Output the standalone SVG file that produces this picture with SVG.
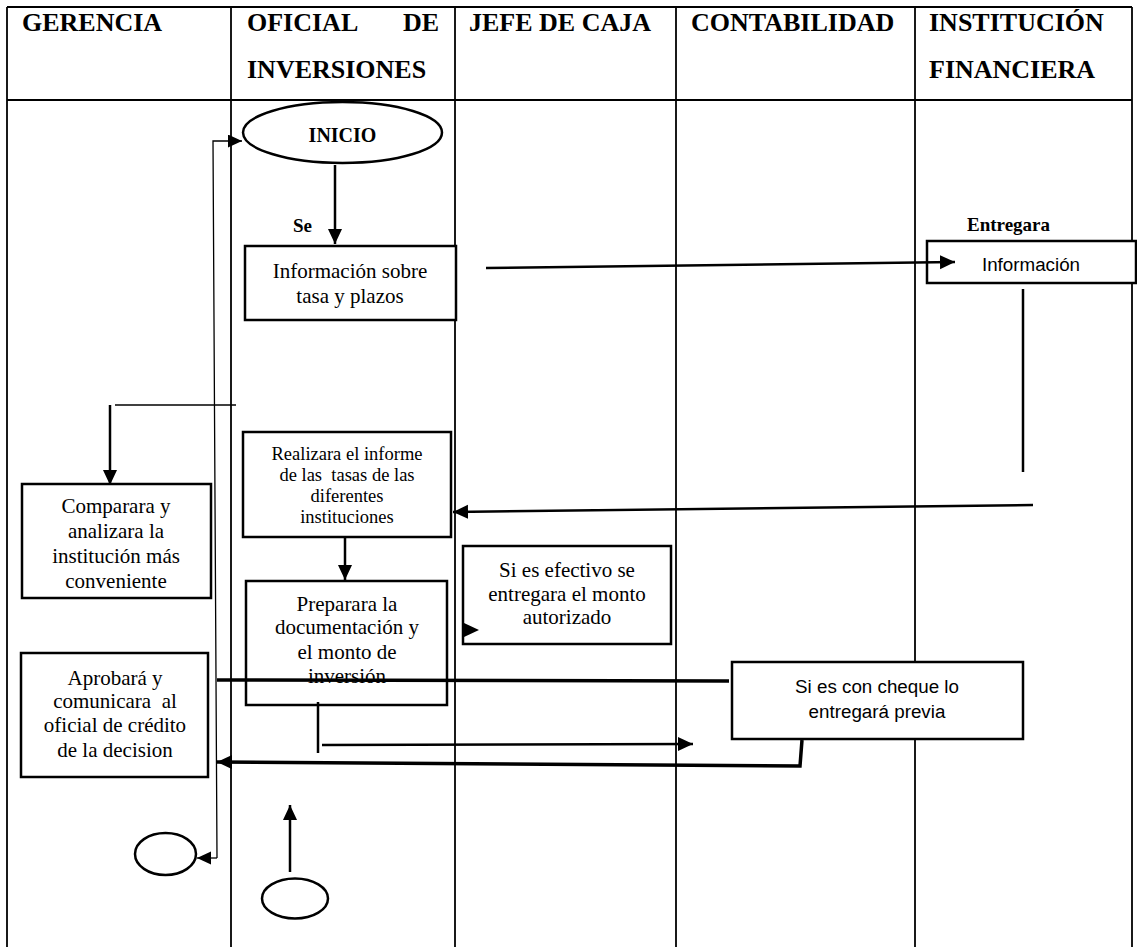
<svg xmlns="http://www.w3.org/2000/svg" width="1137" height="947" viewBox="0 0 1137 947">
<style>
.grid{stroke:#000;stroke-width:1.8;fill:none}
.hd{font-family:"Liberation Serif","Times New Roman",serif;font-weight:bold;font-size:26px;fill:#000}
.box{fill:#fff;stroke:#000;stroke-width:2.5}
.t{font-family:"Liberation Serif","Times New Roman",serif;font-size:21px;fill:#000;text-anchor:middle;white-space:pre}
.ts{font-family:"Liberation Serif","Times New Roman",serif;font-size:18.5px;fill:#000;text-anchor:middle;white-space:pre}
.sans{font-family:"Liberation Sans",Arial,sans-serif;font-size:18.8px;fill:#000;text-anchor:middle}
.b{font-family:"Liberation Serif","Times New Roman",serif;font-weight:bold;fill:#000}
.c{stroke:#000;fill:none;stroke-width:2.5}
.thin{stroke:#000;fill:none;stroke-width:1.3}
.thick{stroke:#000;fill:none;stroke-width:3.5}
</style>
<defs>
<marker id="ah" markerUnits="userSpaceOnUse" markerWidth="16" markerHeight="16" refX="15" refY="7" orient="auto"><path d="M0,0 L15,7 L0,14 z" fill="#000"/></marker>
<marker id="ahs" markerUnits="userSpaceOnUse" markerWidth="16" markerHeight="14" refX="14" refY="6.5" orient="auto"><path d="M0,0 L14,6.5 L0,13 z" fill="#000"/></marker>
</defs>
<rect width="1137" height="947" fill="#fff"/>
<g id="table">
<line class="grid" x1="7" y1="7" x2="1132" y2="7"/>
<line class="grid" x1="7" y1="100" x2="1132" y2="100"/>
<line class="grid" x1="7" y1="7" x2="7" y2="947"/>
<line class="grid" x1="231" y1="7" x2="231" y2="947"/>
<line class="grid" x1="455" y1="7" x2="455" y2="947"/>
<line class="grid" x1="676" y1="7" x2="676" y2="947"/>
<line class="grid" x1="915" y1="7" x2="915" y2="947"/>
<line class="grid" x1="1132" y1="7" x2="1132" y2="947"/>
<text class="hd" x="22" y="31">GERENCIA</text>
<text class="hd" x="247" y="31">OFICIAL</text>
<text class="hd" x="439" y="31" text-anchor="end">DE</text>
<text class="hd" x="247" y="78">INVERSIONES</text>
<text class="hd" x="469" y="31">JEFE DE CAJA</text>
<text class="hd" x="691" y="31">CONTABILIDAD</text>
<text class="hd" x="929" y="31">INSTITUCIÓN</text>
<text class="hd" x="929" y="78">FINANCIERA</text>
</g>
<g id="inicio">
<ellipse cx="342.5" cy="132.5" rx="99.5" ry="30.5" class="box"/>
<text class="b" x="342.5" y="142" font-size="20" text-anchor="middle">INICIO</text>
</g>
<g id="info-tasa">
<rect class="box" x="245" y="246" width="211" height="74"/>
<text class="t" x="350" y="278">Información sobre</text>
<text class="t" x="350" y="303">tasa y plazos</text>
</g>
<g id="info-inst">
<rect class="box" x="927" y="241" width="209" height="42"/>
<text class="sans" x="1031" y="271">Información</text>
</g>
<g id="realizara">
<rect class="box" x="243" y="432" width="208" height="105"/>
<text class="ts" x="347" y="460">Realizara el informe</text>
<text class="ts" x="347" y="481">de las  tasas de las</text>
<text class="ts" x="347" y="502">diferentes</text>
<text class="ts" x="347" y="523">instituciones</text>
</g>
<g id="comparara">
<rect class="box" x="22" y="484" width="189" height="114"/>
<text class="t" x="116" y="513">Comparara y</text>
<text class="t" x="116" y="538">analizara la</text>
<text class="t" x="116" y="563">institución más</text>
<text class="t" x="116" y="588">conveniente</text>
</g>
<g id="efectivo">
<rect class="box" x="463" y="546" width="208" height="98"/>
<text class="t" x="567" y="577">Si es efectivo se</text>
<text class="t" x="567" y="601">entregara el monto</text>
<text class="t" x="567" y="624">autorizado</text>
<path d="M464,623 L479,630 L464,637 z" fill="#000"/>
</g>
<g id="preparara">
<rect class="box" x="246" y="581" width="201" height="124"/>
<text class="t" x="347" y="611">Preparara la</text>
<text class="t" x="347" y="634">documentación y</text>
<text class="t" x="347" y="659">el monto de</text>
<text class="t" x="347" y="683">inversión</text>
</g>
<g id="aprobara">
<rect class="box" x="21" y="653" width="187" height="124"/>
<text class="t" x="115" y="685">Aprobará y</text>
<text class="t" x="115" y="708">comunicara  al</text>
<text class="t" x="115" y="732">oficial de crédito</text>
<text class="t" x="115" y="757">de la decision</text>
</g>
<g id="cheque">
<rect class="box" x="732" y="662" width="291" height="77"/>
<text class="sans" x="877" y="693">Si es con cheque lo</text>
<text class="sans" x="877" y="718">entregará previa</text>
</g>
<g id="fin-gerencia">
<ellipse cx="165.5" cy="854" rx="30.5" ry="21" class="box"/>
</g>
<g id="fin-oficial">
<ellipse cx="295" cy="898.5" rx="33" ry="20" class="box"/>
</g>
<g id="connectors">
<line class="c" x1="335" y1="165" x2="335" y2="244" marker-end="url(#ah)"/>
<text class="b" x="293" y="232" font-size="19">Se</text>
<text class="b" x="967" y="231" font-size="19">Entregara</text>
<line class="c" x1="486" y1="268" x2="955" y2="262" marker-end="url(#ah)"/>
<line class="c" x1="1023" y1="289" x2="1023" y2="472"/>
<line class="c" x1="1033" y1="505" x2="453" y2="512" marker-end="url(#ah)"/>
<line class="thin" x1="115" y1="405" x2="236" y2="405"/>
<line class="c" x1="110" y1="405" x2="110" y2="485" marker-end="url(#ah)"/>
<line class="c" x1="345" y1="537" x2="345" y2="580" marker-end="url(#ah)"/>
<path class="thin" d="M217,858 L213,141 L242,141" marker-end="url(#ahs)"/>
<line class="thin" x1="217" y1="858" x2="197" y2="858" marker-end="url(#ahs)"/>
<line class="c" x1="290" y1="872" x2="290" y2="805" marker-end="url(#ah)"/>
<line class="c" x1="318" y1="702" x2="318" y2="753"/>
<line class="c" x1="322" y1="745" x2="693" y2="744" marker-end="url(#ah)"/>
<line class="thick" x1="217" y1="680" x2="729" y2="681"/>
<path class="thick" d="M802,740 L800,766 L217,762" marker-end="url(#ah)"/>
</g>
</svg>
